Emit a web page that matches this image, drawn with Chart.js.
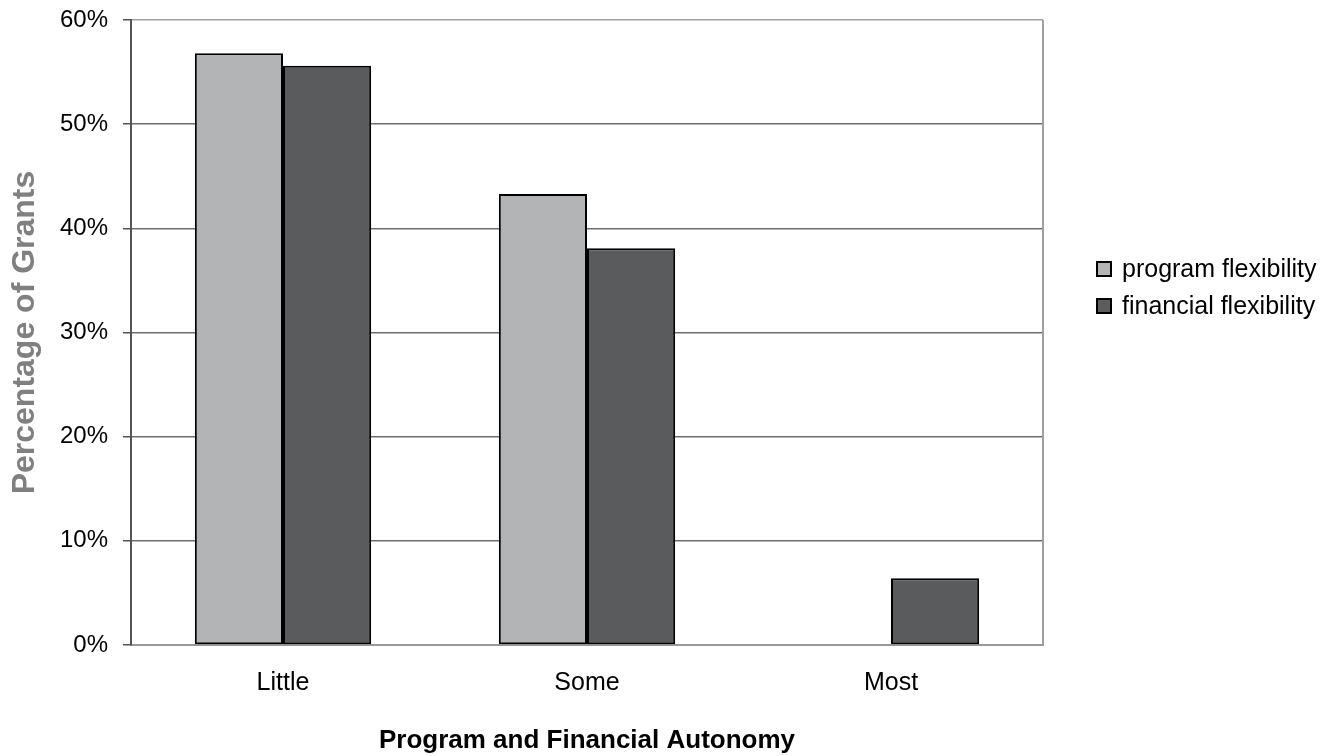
<!DOCTYPE html>
<html>
<head>
<meta charset="utf-8">
<script src="https://cdn.jsdelivr.net/npm/chart.js@4/dist/chart.umd.min.js"></script>
<style>
  html, body { margin: 0; padding: 0; background: #fff; }
  #wrap { position: relative; width: 1339px; height: 756px; }
</style>
</head>
<body>
<div id="wrap"><canvas id="chart_autonomy"></canvas></div>
<script>
var categories = ['Little', 'Some', 'Most'];
var programFlexibility = [56.8, 43.3, 0];
var financialFlexibility = [55.6, 38.1, 6.4];
var seriesLabels = ['program flexibility', 'financial flexibility'];
var yTicks = [0, 10, 20, 30, 40, 50, 60];

var FONT = '"Liberation Sans", Arial, sans-serif';

var chart_autonomy = new Chart(document.getElementById('chart_autonomy'), {
    type: 'bar',
    data: {
        labels: categories,
        datasets: [
            {
                label: seriesLabels[0],
                data: programFlexibility,
                backgroundColor: '#b3b4b6',
                borderColor: '#000000',
                borderWidth: function(ctx) { return ctx.raw ? 2 : 0; },
                borderSkipped: false
            },
            {
                label: seriesLabels[1],
                data: financialFlexibility,
                backgroundColor: '#5a5b5d',
                borderColor: '#000000',
                borderWidth: function(ctx) { return ctx.raw ? 2 : 0; },
                borderSkipped: false
            }
        ]
    },
    options: {
        animation: false,
        responsive: true,
        maintainAspectRatio: false,
        categoryPercentage: 0.58,
        barPercentage: 1,
        layout: {
            padding: { top: 20, right: 296, left: 0, bottom: 0 }
        },
        plugins: {
            legend: { display: false },
            tooltip: { enabled: false }
        },
        scales: {
            x: {
                grid: { display: false, drawTicks: false },
                border: { color: '#999999', width: 2 },
                ticks: {
                    color: '#000000',
                    padding: 23,
                    font: { family: FONT, size: 25 }
                },
                title: {
                    display: true,
                    text: 'Program and Financial Autonomy',
                    color: '#000000',
                    padding: { top: 0, bottom: 0 },
                    font: { family: FONT, size: 26, weight: 'bold' }
                },
                afterFit: function(scale) {
                    scale.height = 111;
                    scale.paddingLeft = 0;
                    scale.paddingRight = 0;
                }
            },
            y: {
                min: 0,
                max: 60,
                afterBuildTicks: function(scale) {
                    scale.ticks = yTicks.map(function(v) { return { value: v }; });
                },
                grid: {
                    color: function(ctx) {
                        return (ctx.tick && (ctx.tick.value === 60 || ctx.tick.value === 0)) ? '#a0a0a0' : '#6e6e6e';
                    },
                    lineWidth: 1.5,
                    tickLength: 8,
                    tickColor: '#555555'
                },
                border: { color: '#555555', width: 2 },
                ticks: {
                    color: '#000000',
                    padding: 15,
                    font: { family: FONT, size: 24 },
                    callback: function(value) { return value + '%'; }
                },
                title: {
                    display: true,
                    text: 'Percentage of Grants',
                    color: '#808080',
                    padding: { top: 6, bottom: 0 },
                    font: { family: FONT, size: 32, weight: 'bold' }
                },
                afterFit: function(scale) {
                    scale.width = 131;
                    scale.paddingTop = 0;
                    scale.paddingBottom = 0;
                }
            }
        }
    },
    plugins: [{
        id: 'whiteBackground',
        beforeDraw: function(chart) {
            var ctx = chart.ctx;
            ctx.save();
            ctx.fillStyle = 'white';
            ctx.fillRect(0, 0, chart.width, chart.height);
            ctx.restore();
        }
    }, {
        id: 'plotBorderRight',
        afterDatasetsDraw: function(chart) {
            var a = chart.chartArea;
            var ctx = chart.ctx;
            ctx.save();
            ctx.strokeStyle = '#a0a0a0';
            ctx.lineWidth = 2;
            ctx.beginPath();
            ctx.moveTo(a.right, a.top);
            ctx.lineTo(a.right, a.bottom);
            ctx.stroke();
            ctx.restore();
        }
    }, {
        id: 'sideLegend',
        afterDraw: function(chart) {
            var ctx = chart.ctx;
            var x = chart.chartArea.right + 54;
            var y0 = 269;
            var rowGap = 37;
            ctx.save();
            ctx.font = '25px ' + FONT;
            ctx.textBaseline = 'middle';
            chart.data.datasets.forEach(function(ds, i) {
                var y = y0 + i * rowGap;
                ctx.fillStyle = ds.backgroundColor;
                ctx.fillRect(x, y - 7, 14, 14);
                ctx.strokeStyle = '#000000';
                ctx.lineWidth = 2;
                ctx.strokeRect(x, y - 7, 14, 14);
                ctx.fillStyle = '#000000';
                ctx.fillText(ds.label, x + 25, y + 1);
            });
            ctx.restore();
        }
    }]
});
</script>
</body>
</html>
